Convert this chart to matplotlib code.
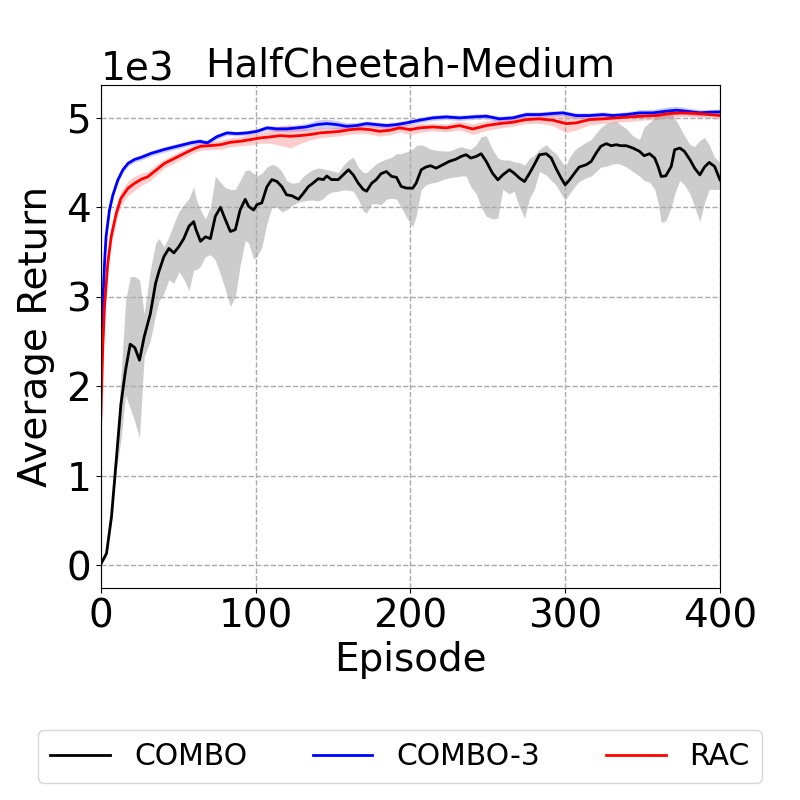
import numpy as np
import matplotlib
matplotlib.use('Agg')
import matplotlib.pyplot as plt

# COMBO (black) : episode, mean return, lower / upper of shaded band
combo_ep = [0, 3.7, 6.9, 10, 13, 16, 19, 22, 25, 28, 32, 35.4, 37.5, 40.8, 44, 47.2, 50.4, 53.6, 57, 60,
            61.5, 64.4, 67.6, 70.8, 74, 77.3, 80.5, 83.7, 86.9, 90, 93.3, 95.5, 98.7, 100.9, 104, 107.3,
            110.5, 113.7, 117, 120, 123.4, 127.7, 131, 134, 137, 140.5, 143.8, 146, 149, 153.4, 156.7,
            160, 163, 166.3, 169.5, 171.7, 175, 178, 181, 184.5, 187.8, 191, 194, 197.4, 201.5, 203.7,
            207, 210, 213, 216.6, 221, 225, 229.5, 232.8, 236, 239, 242.5, 245.7, 249, 253, 256.5, 259.7,
            264, 267, 270.5, 273.7, 277, 280, 283.4, 287.7, 291, 294, 297.4, 300, 302.8, 306, 309, 313.6,
            316.8, 320, 323, 326.5, 329.7, 333, 336, 339.4, 343.7, 348, 351, 354.5, 357.8, 360, 362, 365,
            368.5, 370.7, 374, 377, 380.6, 383.6, 387, 390, 393, 396.5, 400]
combo_mean = [10, 130, 540, 1175, 1800, 2180, 2470, 2430, 2290, 2550, 2810, 3150, 3280, 3450, 3540, 3490,
              3560, 3650, 3790, 3840, 3750, 3620, 3670, 3650, 3900, 4000, 3860, 3730, 3750, 3970, 4090,
              4010, 3970, 4030, 4050, 4230, 4310, 4290, 4230, 4140, 4130, 4090, 4160, 4230, 4270, 4320,
              4310, 4350, 4310, 4310, 4365, 4420, 4365, 4270, 4200, 4180, 4270, 4310, 4376, 4400, 4346,
              4335, 4234, 4215, 4214, 4270, 4420, 4450, 4465, 4438, 4476, 4513, 4539, 4569, 4588, 4551,
              4569, 4599, 4513, 4382, 4307, 4363, 4420, 4382, 4326, 4288, 4382, 4476, 4588, 4599, 4551,
              4438, 4326, 4251, 4307, 4382, 4450, 4476, 4513, 4607, 4682, 4712, 4689, 4700, 4689, 4689,
              4663, 4626, 4577, 4599, 4551, 4457, 4345, 4352, 4457, 4644, 4663, 4626, 4532, 4438, 4363,
              4450, 4502, 4457, 4307]
combo_lo = [0, 100, 480, 1050, 1400, 1900, 1750, 1600, 1420, 2330, 2510, 2800, 2950, 3040, 3190, 3150,
            3280, 3200, 3070, 3300, 3300, 3340, 3450, 3470, 3410, 3250, 3080, 2890, 3000, 3350, 3630,
            3600, 3420, 3450, 3550, 3820, 4000, 4000, 3950, 3970, 4020, 4060, 4070, 4080, 4080, 4070,
            4100, 4140, 4170, 4180, 4195, 4190, 4180, 4090, 3960, 3935, 4040, 4040, 4030, 4090, 4100,
            4090, 4000, 3890, 3783, 3900, 4200, 4250, 4270, 4280, 4310, 4330, 4340, 4350, 4350, 4230,
            4150, 4000, 3900, 3870, 3880, 4200, 4150, 4180, 4000, 3880, 4100, 4200, 4400, 4360, 4300,
            4250, 4150, 4080, 4150, 4230, 4290, 4330, 4350, 4400, 4450, 4460, 4480, 4490, 4480, 4450,
            4400, 4350, 4300, 4280, 4200, 4050, 3830, 3850, 4000, 4150, 4300, 4250, 4150, 4000, 3840,
            4050, 4200, 4200, 4200]
combo_hi = [20, 160, 600, 1300, 2100, 2950, 3225, 3225, 3190, 2810, 3300, 3600, 3650, 3560, 3670, 3820,
            3950, 4030, 4100, 4230, 4100, 3970, 3870, 4000, 4350, 4280, 4220, 4200, 4200, 4300, 4410,
            4420, 4380, 4350, 4380, 4450, 4480, 4460, 4400, 4300, 4270, 4280, 4350, 4390, 4420, 4440,
            4430, 4420, 4410, 4390, 4470, 4530, 4560, 4450, 4390, 4390, 4440, 4490, 4515, 4540, 4560,
            4600, 4600, 4620, 4650, 4690, 4700, 4680, 4650, 4640, 4630, 4630, 4660, 4680, 4660, 4650,
            4700, 4790, 4800, 4650, 4550, 4530, 4530, 4510, 4500, 4470, 4550, 4580, 4650, 4700, 4640,
            4600, 4520, 4450, 4560, 4640, 4680, 4730, 4760, 4830, 4890, 4940, 4950, 4960, 4920, 4880,
            4800, 4760, 4900, 4950, 5000, 5050, 5075, 5080, 5050, 5000, 4900, 4800, 4700, 4680, 4750,
            4780, 4700, 4560, 4500]

# COMBO-3 (blue)
combo3_ep = [0, 1.3, 2.4, 3.4, 5.6, 7.8, 11, 14.2, 17.5, 21.8, 26, 32.5, 41, 49.8, 58.4, 64, 68.7, 75,
             81.5, 88, 94.4, 100.9, 107.3, 113.7, 120, 126.6, 133, 139.5, 146, 152.4, 158.8, 165, 171.7,
             178, 184.5, 191, 197.4, 205.8, 214.4, 223, 231.7, 240.3, 249, 257.5, 266, 274.8, 283.4, 292,
             298.5, 307, 315.7, 324.4, 330.8, 339.4, 348, 356.7, 365.3, 371.8, 378, 387, 393.3, 400]
combo3_mean = [2260, 2930, 3375, 3673, 3970, 4138, 4305, 4417, 4490, 4535, 4558, 4603, 4647, 4685, 4722,
               4738, 4720, 4790, 4832, 4824, 4832, 4850, 4888, 4877, 4877, 4888, 4900, 4925, 4936, 4925,
               4906, 4914, 4936, 4925, 4914, 4925, 4944, 4974, 5000, 5011, 5000, 5011, 5019, 4989, 5000,
               5037, 5037, 5049, 5056, 5026, 5026, 5037, 5026, 5037, 5056, 5056, 5075, 5086, 5075, 5056,
               5064, 5067]
combo3_std = [40, 60, 60, 50, 40, 40, 35, 30, 30, 30, 30, 30, 30, 30, 30, 30, 30, 30, 25, 25, 25, 25, 30,
              30, 30, 35, 40, 50, 50, 45, 40, 35, 30, 30, 30, 30, 30, 30, 30, 30, 30, 30, 30, 30, 30, 30,
              30, 30, 30, 30, 30, 30, 30, 30, 35, 40, 45, 45, 40, 35, 30, 30]

# RAC (red)
rac_ep = [0, 1.3, 2.4, 4.5, 6.7, 10, 13, 17.5, 21.8, 26, 30.4, 35.8, 41, 47.6, 54, 60.6, 64.4, 70.8, 77.3,
          83.7, 90, 96.6, 103, 109.4, 115.9, 122.3, 128.8, 135, 141.6, 148, 154.5, 161, 167.4, 173.8, 180,
          186.7, 193, 200, 205.8, 214.4, 223, 231.7, 240.3, 249, 257.5, 266, 274.8, 283.4, 292, 300.6, 307,
          315.7, 324.4, 333, 341.6, 350, 358.8, 367.5, 376, 384.7, 393.3, 400]
rac_mean = [1627, 2445, 2890, 3375, 3673, 3933, 4100, 4212, 4268, 4312, 4342, 4417, 4490, 4547, 4603, 4658,
            4682, 4690, 4700, 4727, 4738, 4757, 4776, 4787, 4802, 4794, 4802, 4813, 4832, 4840, 4850, 4869,
            4877, 4869, 4850, 4862, 4888, 4869, 4888, 4899, 4888, 4914, 4876, 4914, 4936, 4951, 4981, 4989,
            4974, 4936, 4944, 4981, 4989, 5000, 5011, 5019, 5026, 5049, 5056, 5049, 5037, 5026]
rac_std = [80, 100, 100, 100, 90, 80, 80, 80, 80, 70, 60, 60, 50, 50, 50, 45, 45, 45, 50, 50, 50, 60, 60,
           70, 110, 130, 90, 60, 55, 50, 50, 50, 50, 50, 55, 50, 45, 55, 50, 45, 45, 50, 60, 55, 50, 45,
           45, 50, 60, 100, 80, 60, 50, 50, 50, 45, 45, 45, 40, 40, 40, 40]

combo_ep = np.array(combo_ep)
combo3_ep, combo3_mean, combo3_std = map(np.array, (combo3_ep, combo3_mean, combo3_std))
rac_ep, rac_mean, rac_std = map(np.array, (rac_ep, rac_mean, rac_std))

fig = plt.figure(figsize=(8, 8), dpi=100)
ax = fig.add_axes([0.126, 0.265, 0.774, 0.629])

ax.fill_between(combo_ep, combo_lo, combo_hi, color='black', alpha=0.2, linewidth=0)
ax.fill_between(combo3_ep, combo3_mean - combo3_std, combo3_mean + combo3_std, color='blue', alpha=0.2, linewidth=0)
ax.fill_between(rac_ep, rac_mean - rac_std, rac_mean + rac_std, color='red', alpha=0.2, linewidth=0)

ax.plot(combo_ep, combo_mean, color='black', lw=2, label='COMBO')
ax.plot(combo3_ep, combo3_mean, color='blue', lw=2, label='COMBO-3')
ax.plot(rac_ep, rac_mean, color='red', lw=2, label='RAC')

ax.set_xlim(0, 400)
ax.set_ylim(-257, 5370)
ax.set_xticks([0, 100, 200, 300, 400])
ax.ticklabel_format(axis='y', style='sci', scilimits=(3, 3))
ax.tick_params(labelsize=28)
ax.yaxis.get_offset_text().set_fontsize(28)
ax.grid(True, linestyle='--', color='#aaaaaa', linewidth=1)

ax.set_xlabel('Episode', fontsize=28)
ax.set_ylabel('Average Return', fontsize=28, labelpad=8)
ax.set_title('HalfCheetah-Medium', fontsize=28)

fig.legend(loc='center', bbox_to_anchor=(0.5, 0.054), ncol=3, fontsize=21.5, columnspacing=2.2)

plt.savefig('out.png', dpi=100)
